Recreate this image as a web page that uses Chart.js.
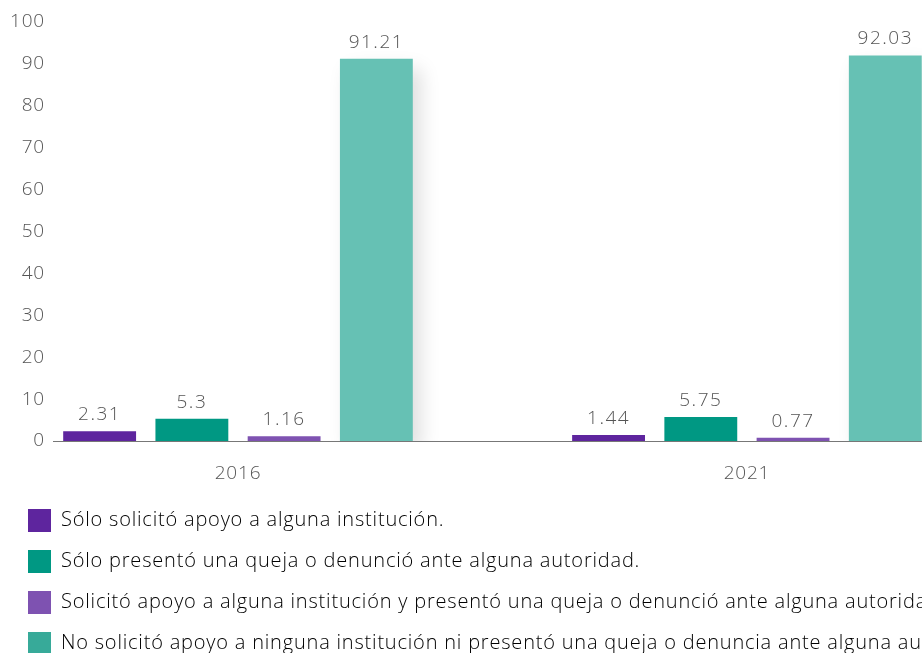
<!DOCTYPE html>
<html lang="es">
<head>
<meta charset="utf-8">
<script src="https://cdn.jsdelivr.net/npm/chart.js@4.4.0/dist/chart.umd.min.js"></script>
<style>
  html, body { margin: 0; padding: 0; background: #fff; overflow: hidden; }
  #wrap { width: 922px; height: 653px; overflow: hidden; }
</style>
</head>
<body>
<div id="wrap"><canvas id="myChart" width="922" height="665"></canvas></div>
<script>
// Datos del gráfico
const categorias = ["2016", "2021"];
const soloApoyo = [2.31, 1.44];
const soloQueja = [5.3, 5.75];
const apoyoYQueja = [1.16, 0.77];
const ninguno = [91.21, 92.03];
const series = [
    "Sólo solicitó apoyo a alguna institución.",
    "Sólo presentó una queja o denunció ante alguna autoridad.",
    "Solicitó apoyo a alguna institución y presentó una queja o denunció ante alguna autoridad.",
    "No solicitó apoyo a ninguna institución ni presentó una queja o denuncia ante alguna autoridad."
];
const yTicks = [0, 10, 20, 30, 40, 50, 60, 70, 80, 90, 100];

const colores = ["#5e259e", "#009883", "#7e52b1", "#66c1b4"];
const coloresLeyenda = ["#5e259e", "#009883", "#7e52b1", "#37aa99"];

const fuente = "'Open Sans', sans-serif";
const gris = "#555";

// cada categoría es un índice en un eje lineal (el gráfico original está recortado)
const toPoints = arr => arr.map((v, i) => ({ x: i, y: v }));

// el texto original tiene las letras más separadas
const tracking = {
    id: "tracking",
    beforeInit(chart) { chart.ctx.letterSpacing = "0.8px"; },
    beforeDraw(chart) { chart.ctx.letterSpacing = "0.8px"; }
};

// etiquetas de valor encima de cada barra
const valueLabels = {
    id: "valueLabels",
    afterDatasetsDraw(chart) {
        const ctx = chart.ctx;
        ctx.save();
        ctx.letterSpacing = "1.5px";
        ctx.font = "300 19px " + fuente;
        ctx.fillStyle = gris;
        ctx.textAlign = "center";
        ctx.textBaseline = "bottom";
        chart.data.datasets.forEach((ds, di) => {
            chart.getDatasetMeta(di).data.forEach((bar, i) => {
                ctx.fillText(String(ds.data[i].y), bar.x, bar.y - 7);
            });
        });
        ctx.restore();
    }
};

// sombra suave en las barras grandes
const barShadow = {
    id: "barShadow",
    beforeDatasetDraw(chart, args) {
        if (args.index === 3) {
            const ctx = chart.ctx;
            ctx.save();
            ctx.shadowColor = "rgba(0,0,0,0.13)";
            ctx.shadowBlur = 18;
            ctx.shadowOffsetX = 8;
            ctx.shadowOffsetY = 10;
        }
    },
    afterDatasetDraw(chart, args) {
        if (args.index === 3) chart.ctx.restore();
    }
};

const config = {
    type: "bar",
    data: {
        datasets: [soloApoyo, soloQueja, apoyoYQueja, ninguno].map((d, i) => ({
            label: series[i],
            data: toPoints(d),
            backgroundColor: colores[i],
            categoryPercentage: 0.725,
            barPercentage: 0.79
        }))
    },
    options: {
        responsive: false,
        animation: false,
        layout: { padding: { left: 10, top: 22, right: 0, bottom: 0 } },
        plugins: {
            tooltip: { enabled: false },
            legend: {
                position: "bottom",
                align: "start",
                labels: {
                    boxWidth: 23,
                    boxHeight: 23,
                    padding: 18,
                    color: gris,
                    font: { family: fuente, size: 20, weight: "300" },
                    generateLabels: chart => chart.data.datasets.map((ds, i) => ({
                        text: ds.label,
                        fillStyle: coloresLeyenda[i],
                        strokeStyle: coloresLeyenda[i],
                        lineWidth: 0,
                        datasetIndex: i
                    }))
                }
            }
        },
        scales: {
            x: {
                type: "linear",
                offset: false,
                min: -0.3635,
                max: 1.344,
                grid: { display: false, drawTicks: false },
                border: { display: true, color: "#777", width: 1 },
                afterBuildTicks: scale => {
                    scale.ticks = categorias.map((c, i) => ({ value: i }));
                },
                afterFit: scale => { scale.height = 50; },
                ticks: {
                    autoSkip: false,
                    maxRotation: 0,
                    padding: 21,
                    color: gris,
                    font: { family: fuente, size: 19, weight: "300" },
                    callback: v => categorias[v]
                }
            },
            y: {
                min: 0,
                max: 100,
                grid: { display: false, drawTicks: false },
                border: { display: false },
                afterBuildTicks: scale => {
                    scale.ticks = yTicks.map(v => ({ value: v }));
                },
                afterFit: scale => { scale.width = 43; },
                ticks: {
                    padding: 8,
                    color: gris,
                    font: { family: fuente, size: 19, weight: "300" }
                }
            }
        }
    },
    plugins: [tracking, barShadow, valueLabels]
};

const ctx = document.getElementById("myChart").getContext("2d");
const myChart = new Chart(ctx, config);
</script>
</body>
</html>
